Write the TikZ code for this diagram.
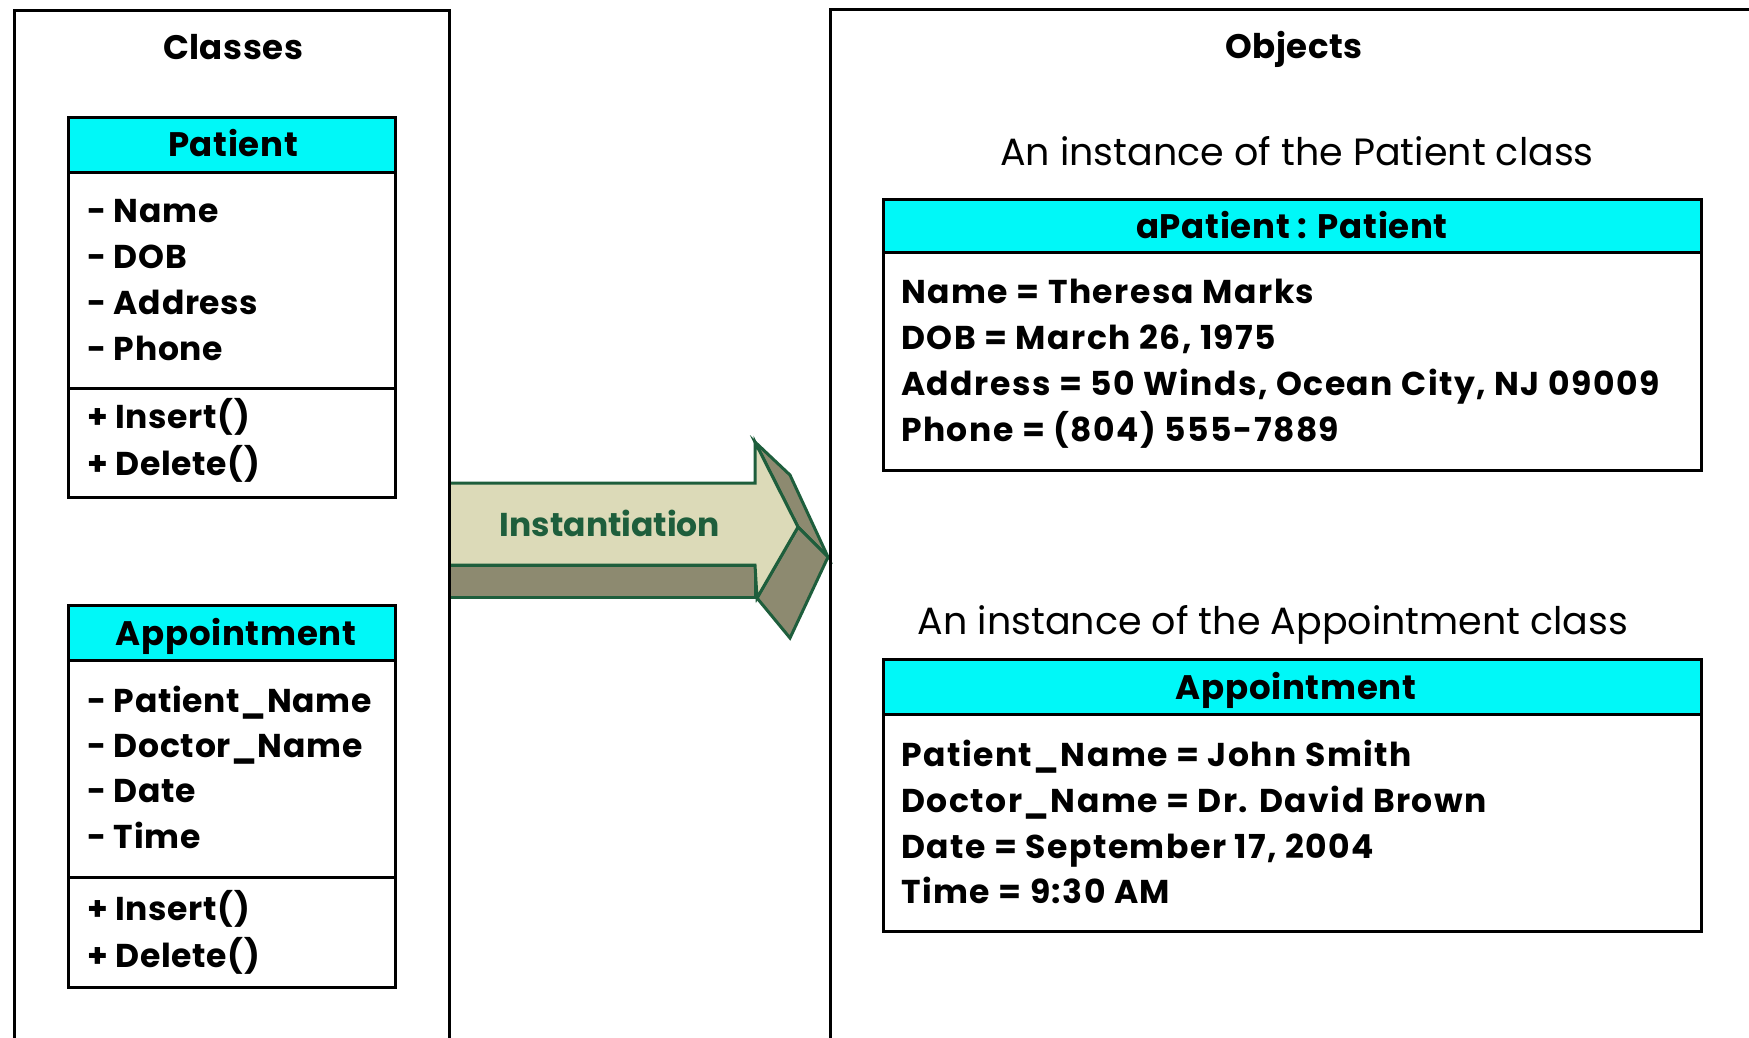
\documentclass[tikz,border=0pt]{standalone}
\usepackage{fontspec}
\setmainfont{Poppins}
\definecolor{arrowline}{HTML}{1E5E3C}
\definecolor{arrowface}{HTML}{DCDAB8}
\definecolor{arrowside}{HTML}{8D8A70}
\definecolor{headcyan}{HTML}{00F8F8}

\tikzset{
  frame/.style={draw=black, line width=3pt},
  boxline/.style={draw=black, line width=3pt},
  member/.style={anchor=base west, inner sep=0pt,
    font=\fontsize{33}{36}\selectfont\bfseries\addfontfeature{LetterSpace=2}},
  objline/.style={anchor=base west, inner sep=0pt,
    font=\fontsize{33}{36}\selectfont\bfseries\addfontfeature{LetterSpace=4.5}},
  headtext/.style={anchor=base, inner sep=0pt,
    font=\fontsize{34}{36}\selectfont\bfseries\addfontfeature{LetterSpace=2}},
  title/.style={anchor=base, inner sep=0pt,
    font=\fontsize{34}{36}\selectfont\bfseries\addfontfeature{LetterSpace=1.5}},
  caption/.style={anchor=base, inner sep=0pt,
    font=\fontsize{38}{40}\selectfont},
  arrowtext/.style={anchor=base, inner sep=0pt, text=arrowline,
    font=\fontsize{33}{36}\selectfont\bfseries},
  arrowpart/.style={draw=arrowline, line width=3pt, line join=miter},
}

\begin{document}
\begin{tikzpicture}[x=1pt,y=-1pt]
  \useasboundingbox (0,0) rectangle (1749,1037);
  \clip (0,0) rectangle (1749,1037);
  \fill[white] (0,0) rectangle (1749,1037);

  % ---------- instantiation arrow ----------
  % extruded sides first
  \draw[arrowpart, fill=arrowside] (449,565) -- (755,565) -- (755,597) -- (449,597);
  \draw[arrowpart, fill=arrowside] (755,442) -- (790,475) -- (828,557) -- (798,527) -- cycle;
  \draw[arrowpart, fill=arrowside] (798,527) -- (828,557) -- (790,638) -- (757,598) -- cycle;
  % front face
  \draw[arrowpart, fill=arrowface] (449,483) -- (755,483) -- (755,442) -- (798,527)
        -- (757,598) -- (755,565) -- (449,565);
  \node[arrowtext] (inst) at (610,536) {Instantiation};

  % ---------- containers ----------
  \draw[frame] (14,1060) -- (14,10) -- (449,10) -- (449,1060);
  \draw[frame] (830,1060) -- (830,9) -- (1770,9);
  \node[title] (classes) at (233,59) {Classes};
  \node[title] (objects) at (1294,58) {Objects};

  % ---------- class Patient ----------
  \fill[white] (68,117) rectangle (395,497);
  \fill[headcyan] (68,117) rectangle (395,172);
  \draw[boxline] (68,117) rectangle (395,497);
  \draw[boxline] (68,172) -- (395,172);
  \draw[boxline] (68,388) -- (395,388);
  \node[headtext] (pname) at (233,156) {Patient};
  \node[member] (p1) at (87,222) {- Name};
  \node[member] (p2) at (87,268) {- DOB};
  \node[member] (p3) at (87,314) {- Address};
  \node[member] (p4) at (87,360) {- Phone};
  \node[member] (p5) at (87,428) {+ Insert()};
  \node[member] (p6) at (87,475) {+ Delete()};

  % ---------- class Appointment ----------
  \fill[white] (68,605) rectangle (395,987);
  \fill[headcyan] (68,605) rectangle (395,660);
  \draw[boxline] (68,605) rectangle (395,987);
  \draw[boxline] (68,660) -- (395,660);
  \draw[boxline] (68,877) -- (395,877);
  \node[headtext] (aname) at (236,645) {Appointment};
  \node[member] (a1) at (87,712) {- Patient\_Name};
  \node[member] (a2) at (87,757) {- Doctor\_Name};
  \node[member] (a3) at (87,802) {- Date};
  \node[member] (a4) at (87,848) {- Time};
  \node[member] (a5) at (87,920) {+ Insert()};
  \node[member] (a6) at (87,967) {+ Delete()};

  % ---------- object aPatient ----------
  \node[caption] (cap1) at (1297,165) {An instance of the Patient class};
  \fill[white] (883,199) rectangle (1701,470);
  \fill[headcyan] (883,199) rectangle (1701,252);
  \draw[boxline] (883,199) rectangle (1701,470);
  \draw[boxline] (883,252) -- (1701,252);
  \node[headtext] (oname) at (1292,238) {aPatient : Patient};
  \node[objline] (o1) at (901,303) {Name = Theresa Marks};
  \node[objline] (o2) at (901,349) {DOB = March 26, 1975};
  \node[objline] (o3) at (901,395) {Address = 50 Winds, Ocean City, NJ 09009};
  \node[objline] (o4) at (901,441) {Phone = (804) 555-7889};

  % ---------- object Appointment ----------
  \node[caption] (cap2) at (1273,634) {An instance of the Appointment class};
  \fill[white] (883,659) rectangle (1701,931);
  \fill[headcyan] (883,659) rectangle (1701,714);
  \draw[boxline] (883,659) rectangle (1701,931);
  \draw[boxline] (883,714) -- (1701,714);
  \node[headtext] (bname) at (1296,699) {Appointment};
  \node[objline] (b1) at (901,766) {Patient\_Name = John Smith};
  \node[objline] (b2) at (901,812) {Doctor\_Name = Dr. David Brown};
  \node[objline] (b3) at (901,858) {Date = September 17, 2004};
  \node[objline] (b4) at (901,903) {Time = 9:30 AM};
\end{tikzpicture}
\end{document}
